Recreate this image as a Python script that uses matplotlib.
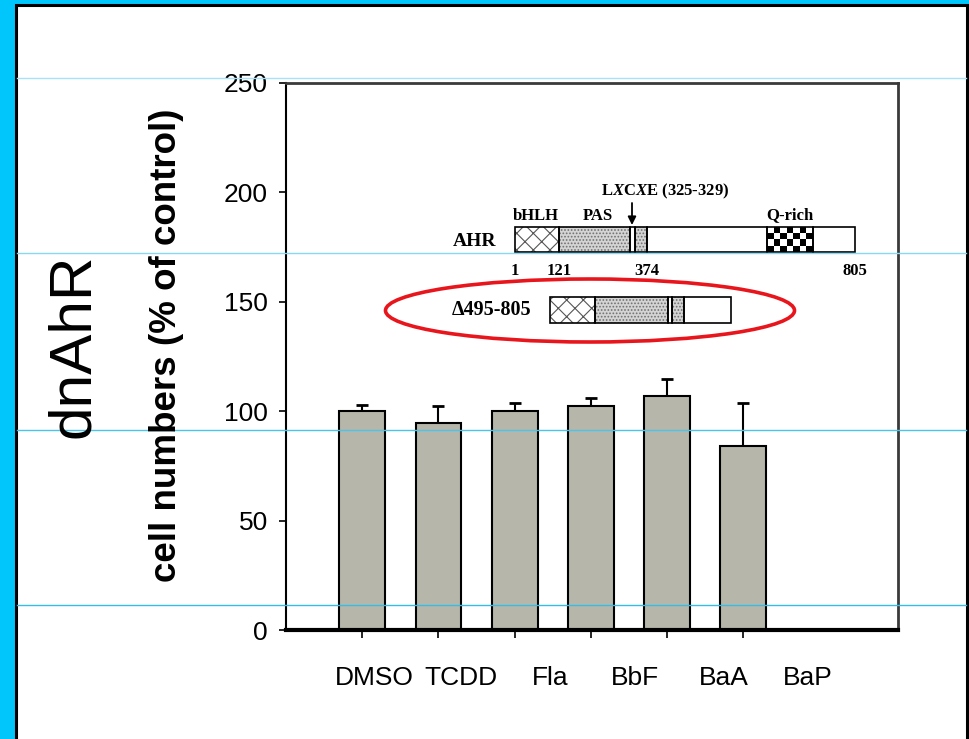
import numpy as np
import matplotlib
matplotlib.use('Agg')
import matplotlib.pyplot as plt
from matplotlib.patches import Rectangle, Ellipse

plt.rcParams['mathtext.fontset'] = 'custom'
plt.rcParams['mathtext.rm'] = 'Liberation Serif:bold'
plt.rcParams['mathtext.it'] = 'Liberation Serif:italic:bold'
plt.rcParams['hatch.linewidth'] = 0.8

treatments = ['DMSO', 'TCDD', 'Fla', 'BbF', 'BaA', 'BaP']
cell_numbers = [100.0, 94.6, 100.0, 102.5, 107.0, 84.1]
sem = [3.0, 7.6, 3.6, 3.5, 7.7, 19.8]
yticks = [0, 50, 100, 150, 200, 250]

# the category names sit in their own text boxes, a bit to the right of the ticks
label_x = [0.16, 1.29, 2.46, 3.58, 4.75, 5.85]

sans = 'Liberation Sans'
serif = 'Liberation Serif'

fig = plt.figure(figsize=(9.7, 7.39), dpi=100)
fig.patch.set_facecolor('#00c6fb')

# slide frame (pixel coordinates)
bg = fig.add_axes([0, 0, 1, 1], zorder=-1)
bg.set_xlim(0, 970)
bg.set_ylim(739, 0)
bg.axis('off')
bg.add_patch(Rectangle((16, 5), 951.5, 760, facecolor='white',
                       edgecolor='black', linewidth=2.2))

# bar chart
ax = fig.add_axes([286 / 970, 109 / 739, 612 / 970, 547 / 739], zorder=0)
x = np.arange(len(treatments))
ax.bar(x, cell_numbers, width=0.6, color='#b6b6aa', edgecolor='black',
       linewidth=1.5, zorder=2)
ax.errorbar(x, cell_numbers, yerr=[np.zeros(len(sem)), sem], fmt='none',
            ecolor='black', elinewidth=1.5, capsize=4.5, capthick=2, zorder=1)
ax.set_xlim(-1, 7.03)
ax.set_ylim(0, 250)
ax.set_yticks(yticks)
ax.set_xticks(x)
ax.set_xticklabels([])
for lab in ax.get_yticklabels():
    lab.set_family(sans)
    lab.set_fontsize(19)
for lx, name in zip(label_x, treatments):
    ax.text(lx, -0.087, name, transform=ax.get_xaxis_transform(),
            ha='center', va='center', fontsize=19, family=sans)
ax.tick_params(axis='y', direction='out', length=5, width=1.2, pad=8)
ax.tick_params(axis='x', direction='out', length=6, width=1.2)
ax.spines['left'].set_linewidth(1.5)
ax.spines['bottom'].set_linewidth(3)
for s in ['top', 'right']:
    ax.spines[s].set_linewidth(2)
    ax.spines[s].set_color('#3a3a3a')

fig.text(167 / 970, 1 - 345 / 739, 'cell numbers (% of control)', rotation=90,
         ha='center', va='center', fontsize=26.5, fontweight='bold', family=sans)
fig.text(74 / 970, 1 - 346 / 739, 'dnAhR', rotation=90, ha='center',
         va='center', fontsize=43.5, family=sans)

# overlay: domain diagram, ellipse, guide lines
ov = fig.add_axes([0, 0, 1, 1], zorder=3)
ov.axis('off')
ov.patch.set_alpha(0)


def construct(y0, h, segs):
    for x0, x1, kind in segs:
        if kind == 'hatch':
            ov.add_patch(Rectangle((x0, y0), x1 - x0, h, facecolor='white',
                                   edgecolor='#555555', hatch='xx', linewidth=0))
        elif kind == 'dots':
            ov.add_patch(Rectangle((x0, y0), x1 - x0, h, facecolor='#d4d4d4',
                                   edgecolor='#707070', hatch='.....', linewidth=0))
        elif kind == 'checker':
            board = np.indices((4, 7)).sum(axis=0) % 2
            ov.imshow(board, cmap='gray_r', extent=(x0, x1, y0 + h, y0),
                      interpolation='nearest', aspect='auto', zorder=1)
        ov.add_patch(Rectangle((x0, y0), x1 - x0, h, fill=False,
                               edgecolor='black', linewidth=1.2, zorder=2))


construct(227, 25, [(515, 559, 'hatch'), (559, 630, 'dots'), (630, 635, 'white'),
                    (635, 647, 'dots'), (647, 767, 'white'), (767, 813, 'checker'),
                    (813, 855, 'white')])
construct(297, 26, [(550, 595, 'hatch'), (595, 668, 'dots'), (668, 672, 'white'),
                    (672, 684, 'dots'), (684, 731, 'white')])
ov.set_xlim(0, 970)
ov.set_ylim(739, 0)

ov.text(496, 242, 'AHR', ha='right', va='center', family=serif,
        fontweight='bold', fontsize=14)
ov.text(536, 216, 'bHLH', ha='center', va='center', family=serif,
        fontweight='bold', fontsize=12)
ov.text(598, 216, 'PAS', ha='center', va='center', family=serif,
        fontweight='bold', fontsize=12)
ov.text(790, 215, 'Q-rich', ha='center', va='center', family=serif,
        fontweight='bold', fontsize=12)
ov.text(665, 191, r'L$\mathit{X}$C$\mathit{X}$E (325-329)', ha='center',
        va='center', family=serif, fontweight='bold', fontsize=12)
for xp, lab in [(515, '1'), (559, '121'), (647, '374'), (855, '805')]:
    ov.text(xp, 271, lab, ha='center', va='center', family=serif,
            fontweight='bold', fontsize=12)
ov.text(531, 310, '\u0394495-805', ha='right', va='center', family=serif,
        fontweight='bold', fontsize=14.5)
ov.annotate('', xy=(632, 225), xytext=(632, 203),
            arrowprops=dict(arrowstyle='-|>', color='black', lw=1.3,
                            mutation_scale=12, shrinkA=0, shrinkB=0))

ov.add_patch(Ellipse((590, 310.5), 409, 63, fill=False, edgecolor='#e8161c',
                     linewidth=2.6, zorder=4))

for yl, col in [(78, '#a8e2f4'), (253, '#8ad8f0'), (430, '#4cc4e8'), (605, '#36bde6')]:
    ov.plot([17, 966], [yl, yl], color=col, linewidth=1, zorder=5)

fig.savefig('out.png', dpi=100, facecolor=fig.get_facecolor())
